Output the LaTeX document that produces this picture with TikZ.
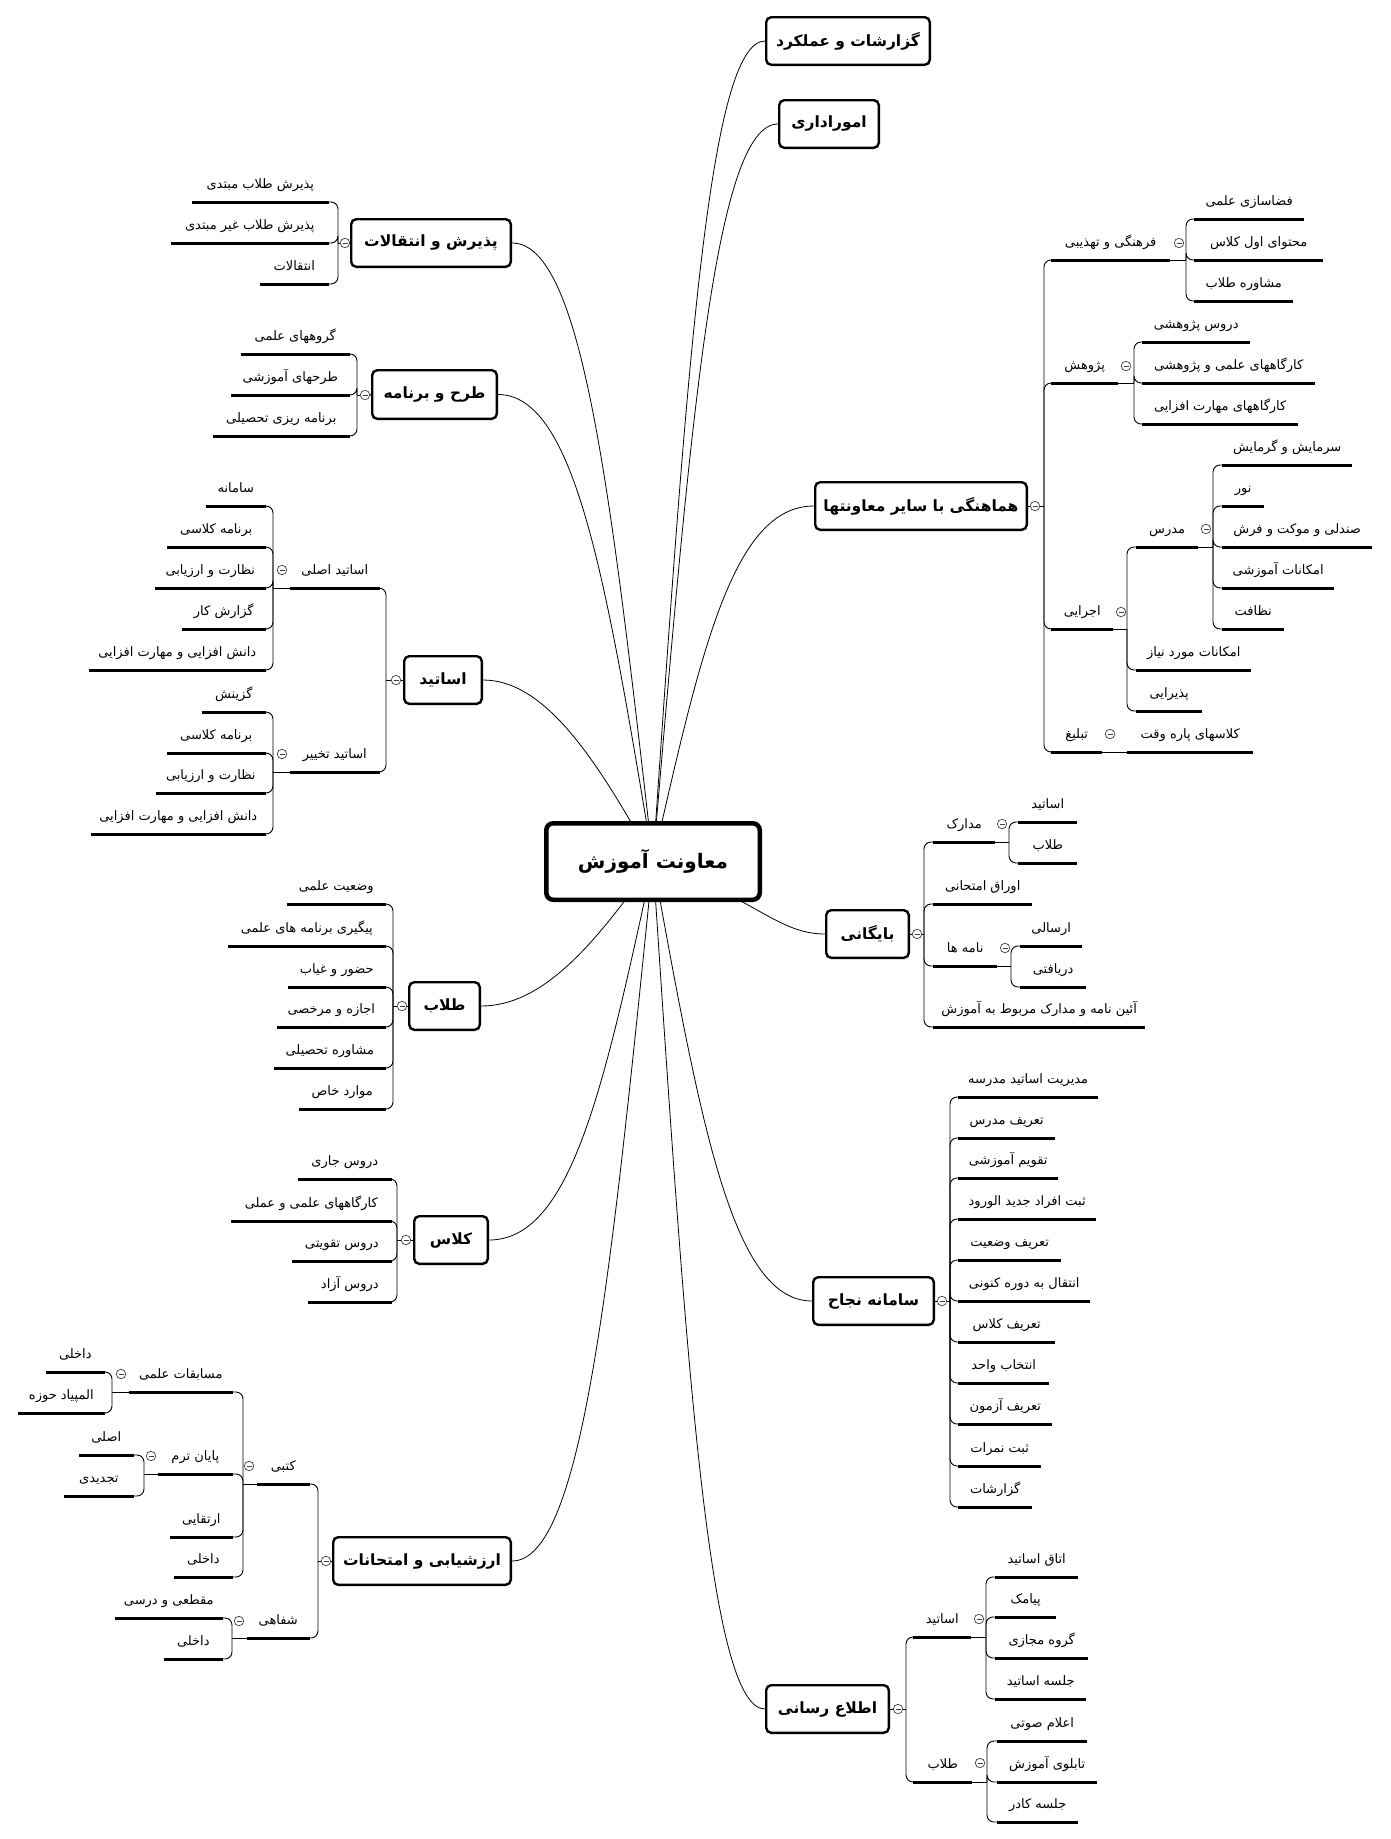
\documentclass[tikz,border=0pt]{standalone}
\usepackage{fontspec}
\TeXXeTstate=1
\newfontfamily\ar[Script=Arabic]{DejaVu Sans}
\tikzset{
  mainbox/.style={draw, line width=2.4pt, rounded corners=5pt, fill=white, inner sep=0pt, font=\ar\bfseries\fontsize{15.5}{19}\selectfont},
  rootbox/.style={draw, line width=4.5pt, rounded corners=7pt, fill=white, inner sep=0pt, font=\ar\bfseries\fontsize{20}{24}\selectfont},
  leaf/.style={inner xsep=0pt, inner ysep=8pt, text height=13pt, text depth=5pt, font=\ar\fontsize{13}{15}\selectfont},
  uline/.style={line width=3pt},
  br/.style={line width=0.9pt, rounded corners=7pt},
  mainc/.style={line width=0.8pt},
  tog/.style={circle, draw=black!75, line width=0.7pt, minimum size=9.5pt, inner sep=0pt, fill=white,
    path picture={\draw[black!75, line width=0.6pt] ([xshift=-2.5pt]path picture bounding box.center) -- ([xshift=2.5pt]path picture bounding box.center);}}
}
\newcommand\mainnode[6]{\node[mainbox, minimum width={#4-#2-2.4}, minimum height={#5-#3-2.4}] (#1) at ({(#2+#4)/2},{(#3+#5)/2}) {#6};}
\newcommand\lfn[6]{\node[leaf, anchor=#2, minimum width=#5] (#1) at (#3,#4) {#6}; \draw[uline] (#1.south west) -- (#1.south east);}
\newcommand\tg[3]{\node[tog] (#1) at (#2,#3) {};}
\newcommand\kidsL[2]{\foreach \k in {#2} {\draw[br] (#1) |- (\k.south east);}}
\newcommand\kidsR[2]{\foreach \k in {#2} {\draw[br] (#1) |- (\k.south west);}}
\begin{document}
\begin{tikzpicture}[x=1pt,y=-1pt]
\useasboundingbox[fill=white] (0,0) rectangle (1390,1839);
\coordinate (c) at (653,861.5);
% main boxes
\mainnode{p1}{765}{16}{931}{66}{\beginR گزارشات و عملکرد\endR}
\mainnode{p2}{778}{99}{880}{149}{\beginR اموراداری\endR}
\mainnode{p3}{350}{218}{512}{268}{\beginR پذیرش و انتقالات\endR}
\mainnode{p4}{371}{369}{498}{420}{\beginR طرح و برنامه\endR}
\mainnode{p5}{814}{481}{1028}{531}{\beginR هماهنگی با سایر معاونتها\endR}
\mainnode{p6}{403}{655}{483}{705}{\beginR اساتید\endR}
\mainnode{p7}{825}{909}{910}{959}{\beginR بایگانی\endR}
\mainnode{p8}{408}{981}{481}{1031}{\beginR طلاب\endR}
\mainnode{p9}{413}{1215}{489}{1265}{\beginR کلاس\endR}
\mainnode{p10}{812}{1276}{935}{1326}{\beginR سامانه نجاح\endR}
\mainnode{p11}{332}{1536}{512}{1586}{\beginR ارزشیابی و امتحانات\endR}
\mainnode{p12}{765}{1684}{890}{1734}{\beginR اطلاع رسانی\endR}
% main connectors from the centre of the root
\draw[mainc] (c) .. controls (686.6,369) and (709,41) .. (p1.west);
\draw[mainc] (c) .. controls (690.5,418.8) and (715.5,124) .. (p2.west);
\draw[mainc] (c) .. controls (610.7,490.2) and (582.5,243) .. (p3.east);
\draw[mainc] (c) .. controls (606.5,581.1) and (575.5,394.5) .. (p4.east);
\draw[mainc] (c) .. controls (701.3,648) and (733.5,506) .. (p5.west);
\draw[mainc] (c) .. controls (593.5,752.4) and (542.5,680) .. (p6.east);
\draw[mainc] (c) .. controls (755,898) and (778,934) .. (p7.west);
\draw[mainc] (c) .. controls (592.8,948) and (541.2,1006) .. (p8.east);
\draw[mainc] (c) .. controls (603.8,1088.4) and (571,1240) .. (p9.east);
\draw[mainc] (c) .. controls (700.7,1125) and (732.5,1301) .. (p10.west);
\draw[mainc] (c) .. controls (610.7,1281) and (582.5,1561) .. (p11.east);
\draw[mainc] (c) .. controls (686.6,1369.8) and (709,1709) .. (p12.west);
% root on top
\node[rootbox, minimum width=213.5, minimum height=76.5] (root) at (c) {\beginR معاونت آموزش\endR};

% ---- پذیرش و انتقالات
\tg{t3}{345}{243}
\coordinate (j3) at (338,243);
\lfn{a1}{south east}{329}{202}{137}{\beginR پذیرش طلاب مبتدی\endR}
\lfn{a2}{south east}{329}{243}{158}{\beginR پذیرش طلاب غیر مبتدی\endR}
\lfn{a3}{south east}{329}{284}{69}{\beginR انتقالات\endR}
\draw[br] (p3.west) -- (t3.east);
\draw[br] (t3.west) -- (j3);
\kidsL{j3}{a1,a2,a3}

% ---- طرح و برنامه
\tg{t4}{365}{395}
\coordinate (j4) at (357,395);
\lfn{b1}{south east}{350}{354}{109}{\beginR گروههای علمی\endR}
\lfn{b2}{south east}{350}{395}{119}{\beginR طرحهای آموزشی\endR}
\lfn{b3}{south east}{350}{436}{137}{\beginR برنامه ریزی تحصیلی\endR}
\draw[br] (p4.west) -- (t4.east);
\draw[br] (t4.west) -- (j4);
\kidsL{j4}{b1,b2,b3}

% ---- اساتید
\tg{t6}{396}{680}
\coordinate (j6) at (386,680);
\lfn{c1}{south east}{380}{588}{90}{\beginR اساتید اصلی\endR}
\lfn{c2}{south east}{380}{772}{90}{\beginR اساتید تخییر\endR}
\draw[br] (p6.west) -- (t6.east);
\draw[br] (t6.west) -- (j6);
\kidsL{j6}{c1,c2}
\tg{t6a}{282}{570}
\coordinate (j6a) at (273,588);
\lfn{c1a}{south east}{266}{506}{60}{\beginR سامانه\endR}
\lfn{c1b}{south east}{266}{547}{99}{\beginR برنامه کلاسی\endR}
\lfn{c1c}{south east}{266}{588}{111}{\beginR نظارت و ارزیابی\endR}
\lfn{c1d}{south east}{266}{629}{84}{\beginR گزارش کار\endR}
\lfn{c1e}{south east}{266}{670}{177}{\beginR دانش افزایی و مهارت افزایی\endR}
\draw[br] (c1.south west) -- (j6a);
\kidsL{j6a}{c1a,c1b,c1c,c1d,c1e}
\tg{t6b}{282}{754}
\coordinate (j6b) at (273,772);
\lfn{c2a}{south east}{266}{712}{64}{\beginR گزینش\endR}
\lfn{c2b}{south east}{266}{753}{99}{\beginR برنامه کلاسی\endR}
\lfn{c2c}{south east}{266}{793}{110}{\beginR نظارت و ارزیابی\endR}
\lfn{c2d}{south east}{266}{834}{175}{\beginR دانش افزایی و مهارت افزایی\endR}
\draw[br] (c2.south west) -- (j6b);
\kidsL{j6b}{c2a,c2b,c2c,c2d}

% ---- طلاب
\tg{t8}{402}{1006}
\coordinate (j8) at (393,1006);
\lfn{d1}{south east}{386}{904}{99}{\beginR وضعیت علمی\endR}
\lfn{d2}{south east}{386}{946}{158}{\beginR پیگیری برنامه های علمی\endR}
\lfn{d3}{south east}{386}{987}{98}{\beginR حضور و غیاب\endR}
\lfn{d4}{south east}{386}{1027}{109}{\beginR اجازه و مرخصی\endR}
\lfn{d5}{south east}{386}{1068}{112}{\beginR مشاوره تحصیلی\endR}
\lfn{d6}{south east}{386}{1109}{87}{\beginR موارد خاص\endR}
\draw[br] (p8.west) -- (t8.east);
\draw[br] (t8.west) -- (j8);
\kidsL{j8}{d1,d2,d3,d4,d5,d6}

% ---- کلاس
\tg{t9}{406}{1240}
\coordinate (j9) at (397,1240);
\lfn{e1}{south east}{392}{1179}{94}{\beginR دروس جاری\endR}
\lfn{e2}{south east}{392}{1221}{161}{\beginR کارگاههای علمی و عملی\endR}
\lfn{e3}{south east}{392}{1261}{100}{\beginR دروس تقویتی\endR}
\lfn{e4}{south east}{392}{1302}{84}{\beginR دروس آزاد\endR}
\draw[br] (p9.west) -- (t9.east);
\draw[br] (t9.west) -- (j9);
\kidsL{j9}{e1,e2,e3,e4}

% ---- ارزشیابی و امتحانات
\tg{t11}{326}{1561}
\coordinate (j11) at (318,1561);
\lfn{f1}{south east}{310}{1484}{53}{\beginR کتبی\endR}
\lfn{f2}{south east}{310}{1638}{63}{\beginR شفاهی\endR}
\draw[br] (p11.west) -- (t11.east);
\draw[br] (t11.west) -- (j11);
\kidsL{j11}{f1,f2}
\tg{t11a}{249}{1466}
\coordinate (j11a) at (243,1484);
\lfn{f1a}{south east}{233}{1392}{104}{\beginR مسابقات علمی\endR}
\lfn{f1b}{south east}{233}{1474}{75}{\beginR پایان ترم\endR}
\lfn{f1c}{south east}{233}{1537}{63}{\beginR ارتقایی\endR}
\lfn{f1d}{south east}{233}{1577}{59}{\beginR داخلی\endR}
\draw[br] (f1.south west) -- (j11a);
\kidsL{j11a}{f1a,f1b,f1c,f1d}
\tg{t11b}{121}{1374}
\coordinate (j11b) at (112,1392);
\lfn{f1a1}{south east}{105}{1372}{59}{\beginR داخلی\endR}
\lfn{f1a2}{south east}{105}{1413}{87}{\beginR المپیاد حوزه\endR}
\draw[br] (f1a.south west) -- (j11b);
\kidsL{j11b}{f1a1,f1a2}
\tg{t11c}{151}{1456}
\coordinate (j11c) at (144,1474);
\lfn{f1b1}{south east}{134}{1455}{55}{\beginR اصلی\endR}
\lfn{f1b2}{south east}{134}{1496}{70}{\beginR تجدیدی\endR}
\draw[br] (f1b.south west) -- (j11c);
\kidsL{j11c}{f1b1,f1b2}
\tg{t11d}{239}{1621}
\coordinate (j11d) at (232,1638);
\lfn{f2a}{south east}{223}{1618}{108}{\beginR مقطعی و درسی\endR}
\lfn{f2b}{south east}{223}{1659}{59}{\beginR داخلی\endR}
\draw[br] (f2.south west) -- (j11d);
\kidsL{j11d}{f2a,f2b}

% ---- هماهنگی با سایر معاونتها
\tg{t5}{1035}{506}
\coordinate (j5) at (1044,506);
\lfn{g1}{south west}{1051}{260}{119}{\beginR فرهنگی و تهذیبی\endR}
\lfn{g2}{south west}{1051}{383}{67}{\beginR پژوهش\endR}
\lfn{g3}{south west}{1051}{629}{62}{\beginR اجرایی\endR}
\lfn{g4}{south west}{1051}{752}{51}{\beginR تبلیغ\endR}
\draw[br] (p5.east) -- (t5.west);
\draw[br] (t5.east) -- (j5);
\kidsR{j5}{g1,g2,g3,g4}
\tg{t5a}{1179}{243}
\coordinate (j5a) at (1186,260);
\lfn{g1a}{south west}{1194}{219}{110}{\beginR فضاسازی علمی\endR}
\lfn{g1b}{south west}{1194}{260}{129}{\beginR محتوای اول کلاس\endR}
\lfn{g1c}{south west}{1194}{301}{99}{\beginR مشاوره طلاب\endR}
\draw[br] (g1.south east) -- (j5a);
\kidsR{j5a}{g1a,g1b,g1c}
\tg{t5b}{1126}{366}
\coordinate (j5b) at (1134,383);
\lfn{g2a}{south west}{1142}{342}{108}{\beginR دروس پژوهشی\endR}
\lfn{g2b}{south west}{1142}{383}{173}{\beginR کارگاههای علمی و پژوهشی\endR}
\lfn{g2c}{south west}{1142}{424}{156}{\beginR کارگاههای مهارت افزایی\endR}
\draw[br] (g2.south east) -- (j5b);
\kidsR{j5b}{g2a,g2b,g2c}
\tg{t5c}{1121}{612}
\coordinate (j5c) at (1127,629);
\lfn{g3a}{south west}{1136}{547}{62}{\beginR مدرس\endR}
\lfn{g3b}{south west}{1136}{670}{115}{\beginR امکانات مورد نیاز\endR}
\lfn{g3c}{south west}{1136}{711}{66}{\beginR پذیرایی\endR}
\draw[br] (g3.south east) -- (j5c);
\kidsR{j5c}{g3a,g3b,g3c}
\tg{t5d}{1206}{529}
\coordinate (j5d) at (1213,547);
\lfn{g3a1}{south west}{1222}{465}{130}{\beginR سرمایش و گرمایش\endR}
\lfn{g3a2}{south west}{1222}{506}{42}{\beginR نور\endR}
\lfn{g3a3}{south west}{1222}{547}{150}{\beginR صندلی و موکت و فرش\endR}
\lfn{g3a4}{south west}{1222}{588}{112}{\beginR امکانات آموزشی\endR}
\lfn{g3a5}{south west}{1222}{629}{62}{\beginR نظافت\endR}
\draw[br] (g3a.south east) -- (j5d);
\kidsR{j5d}{g3a1,g3a2,g3a3,g3a4,g3a5}
\tg{t5e}{1110}{734}
\lfn{g4a}{south west}{1127}{752}{126}{\beginR کلاسهای پاره وقت\endR}
\draw[br] (g4.south east) -- (g4a.south west);

% ---- بایگانی
\tg{t7}{917}{934}
\coordinate (j7) at (924,934);
\lfn{h1}{south west}{933}{842}{62}{\beginR مدارک\endR}
\lfn{h2}{south west}{933}{904}{99}{\beginR اوراق امتحانی\endR}
\lfn{h3}{south west}{933}{966}{64}{\beginR نامه ها\endR}
\lfn{h4}{south west}{933}{1027}{212}{\beginR آئین نامه و مدارک مربوط به آموزش\endR}
\draw[br] (p7.east) -- (t7.west);
\draw[br] (t7.east) -- (j7);
\kidsR{j7}{h1,h2,h3,h4}
\tg{t7a}{1002}{824}
\coordinate (j7a) at (1009,842);
\lfn{h1a}{south west}{1018}{822}{59}{\beginR اساتید\endR}
\lfn{h1b}{south west}{1018}{863}{59}{\beginR طلاب\endR}
\draw[br] (h1.south east) -- (j7a);
\kidsR{j7a}{h1a,h1b}
\tg{t7b}{1005}{948}
\coordinate (j7b) at (1011,966);
\lfn{h3a}{south west}{1020}{946}{62}{\beginR ارسالی\endR}
\lfn{h3b}{south west}{1020}{987}{66}{\beginR دریافتی\endR}
\draw[br] (h3.south east) -- (j7b);
\kidsR{j7b}{h3a,h3b}

% ---- سامانه نجاح
\tg{t10}{942}{1301}
\coordinate (j10) at (950,1301);
\lfn{i1}{south west}{958}{1097}{140}{\beginR مدیریت اساتید مدرسه\endR}
\lfn{i2}{south west}{958}{1138}{97}{\beginR تعریف مدرس\endR}
\lfn{i3}{south west}{958}{1178}{100}{\beginR تقویم آموزشی\endR}
\lfn{i4}{south west}{958}{1219}{138}{\beginR ثبت افراد جدید الورود\endR}
\lfn{i5}{south west}{958}{1260}{103}{\beginR تعریف وضعیت\endR}
\lfn{i6}{south west}{958}{1301}{132}{\beginR انتقال به دوره کنونی\endR}
\lfn{i7}{south west}{958}{1342}{97}{\beginR تعریف کلاس\endR}
\lfn{i8}{south west}{958}{1383}{91}{\beginR انتخاب واحد\endR}
\lfn{i9}{south west}{958}{1424}{94}{\beginR تعریف آزمون\endR}
\lfn{i10}{south west}{958}{1466}{83}{\beginR ثبت نمرات\endR}
\lfn{i11}{south west}{958}{1507}{74}{\beginR گزارشات\endR}
\draw[br] (p10.east) -- (t10.west);
\draw[br] (t10.east) -- (j10);
\kidsR{j10}{i1,i2,i3,i4,i5,i6,i7,i8,i9,i10,i11}

% ---- اطلاع رسانی
\tg{t12}{898}{1709}
\coordinate (j12) at (906,1709);
\lfn{k1}{south west}{913}{1637}{58}{\beginR اساتید\endR}
\lfn{k2}{south west}{913}{1782}{59}{\beginR طلاب\endR}
\draw[br] (p12.east) -- (t12.west);
\draw[br] (t12.east) -- (j12);
\kidsR{j12}{k1,k2}
\tg{t12a}{979}{1619}
\coordinate (j12a) at (986,1637);
\lfn{k1a}{south west}{995}{1577}{83}{\beginR اتاق اساتید\endR}
\lfn{k1b}{south west}{995}{1617}{61}{\beginR پیامک\endR}
\lfn{k1c}{south west}{995}{1658}{93}{\beginR گروه مجازی\endR}
\lfn{k1d}{south west}{995}{1699}{91}{\beginR جلسه اساتید\endR}
\draw[br] (k1.south east) -- (j12a);
\kidsR{j12a}{k1a,k1b,k1c,k1d}
\tg{t12b}{980}{1763}
\coordinate (j12b) at (987,1782);
\lfn{k2a}{south west}{997}{1741}{90}{\beginR اعلام صوتی\endR}
\lfn{k2b}{south west}{997}{1782}{100}{\beginR تابلوی آموزش\endR}
\lfn{k2c}{south west}{997}{1822}{81}{\beginR جلسه کادر\endR}
\draw[br] (k2.south east) -- (j12b);
\kidsR{j12b}{k2a,k2b,k2c}
\end{tikzpicture}
\end{document}
